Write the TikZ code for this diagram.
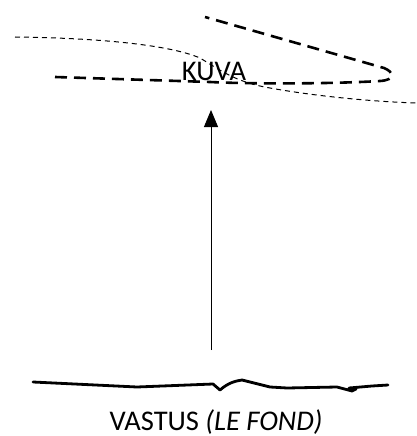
\documentclass[tikz,border=0pt]{standalone}
\usepackage{fontspec}
\setmainfont{Carlito}
\usetikzlibrary{arrows.meta}
\begin{document}
\begin{tikzpicture}[x=1pt,y=-1pt,
  lbl/.style={inner sep=0pt,anchor=base,font=\fontsize{28.5}{32}\selectfont},
  thickdash/.style={line width=2.6pt,dash pattern=on 12pt off 7pt},
  thindash/.style={line width=1pt,dash pattern=on 5pt off 4pt},
  ground/.style={line width=2.8pt,line join=round,line cap=round},
  arr/.style={line width=1pt,-{Triangle[length=17pt,width=14pt]}}]
\useasboundingbox (0,0) rectangle (417,436);
% labels
\node[lbl] (kuva) at (214,80) {KUVA};
\node[lbl] (vastus) at (216,430) {VASTUS \textit{(LE FOND)}};
% thin dashed curve
\draw[thindash] (15,37) .. controls (100,38) and (170,45) .. (200,58)
  .. controls (220,70) and (235,82) .. (270,88)
  .. controls (320,97) and (380,102) .. (417,103);
% thick dashed loop
\draw[thickdash] (55,77) -- (210,82) .. controls (250,84) and (330,84) .. (380,81)
  .. controls (396,80) and (394,72) .. (384,68) -- (205,17);
% ground line
\draw[ground] (33,382) -- (137,387) -- (213,384) -- (220,390)
  .. controls (228,383) and (235,381) .. (242,380)
  -- (270,387) -- (287,388) -- (337,387) -- (352,391) -- (356,389) -- (349,388)
  -- (372,386) -- (388,385);
% arrow
\coordinate (from) at (211,350);
\coordinate (to) at (211,110);
\draw[arr] (from) -- (to);
\end{tikzpicture}
\end{document}
